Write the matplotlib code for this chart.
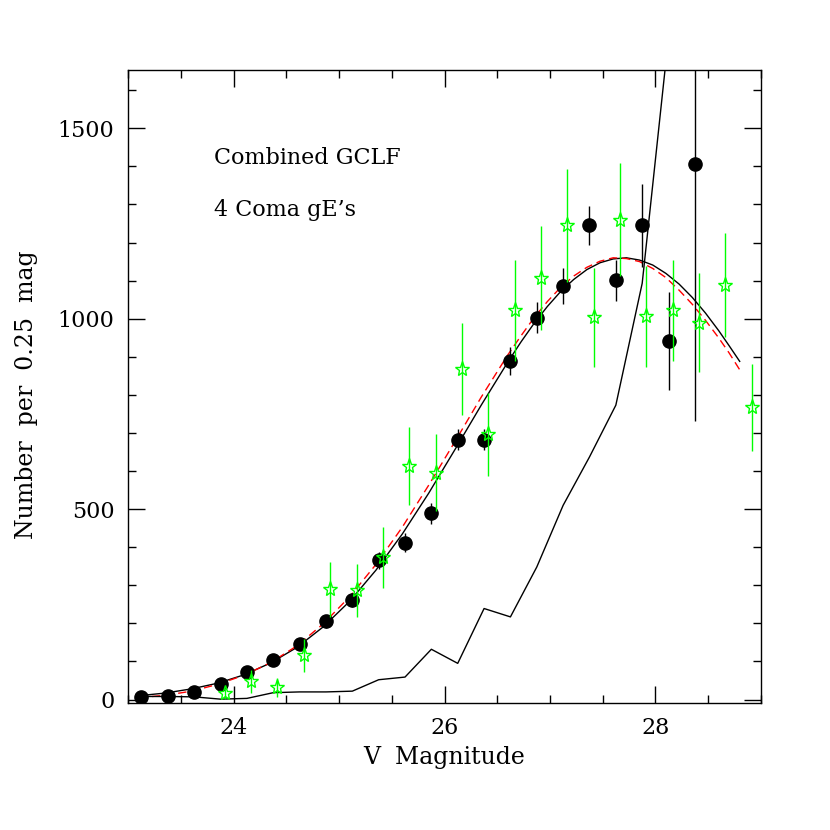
#!/usr/bin/env python3
# -*- coding: utf-8 -*-
"""
Combined GCLF of 4 Coma gE's
"""

# libraries
import numpy as np
import matplotlib
matplotlib.use('Agg')
import matplotlib.pyplot as plt
from matplotlib.ticker import MultipleLocator

# binned counts (black dots)
mag_bins = [23.125, 23.375, 23.625, 23.875, 24.125, 24.375, 24.625, 24.875,
            25.125, 25.375, 25.625, 25.875, 26.125, 26.375, 26.625, 26.875,
            27.125, 27.375, 27.625, 27.875, 28.125, 28.375]
counts = [6, 10, 21, 41, 72, 105, 147, 205, 262, 366, 412, 489, 682, 682,
          889, 1003, 1085, 1245, 1101, 1245, 942, 1407]
counts_err = [3, 4, 6, 8, 10, 12, 14, 16, 19, 22, 24, 27, 28, 28, 37, 41,
              47, 52, 54, 108, 128, 675]

# second set (green open stars)
star_mag = [23.915, 24.165, 24.415, 24.665, 24.915, 25.165, 25.415, 25.665,
            25.915, 26.165, 26.415, 26.665, 26.915, 27.165, 27.415, 27.665,
            27.915, 28.165, 28.415, 28.665, 28.915]
star_counts = [16, 48, 32, 116, 289, 287, 374, 613, 596, 868, 697, 1022,
               1107, 1245, 1004, 1260, 1006, 1022, 989, 1089, 767]
star_err = [15, 30, 25, 43, 72, 70, 80, 102, 100, 120, 109, 132, 137, 148,
            130, 148, 133, 133, 130, 136, 114]

# background / contamination counts (jagged line)
bg_mag = [23.125, 23.375, 23.625, 23.875, 24.125, 24.375, 24.625, 24.875,
          25.125, 25.375, 25.625, 25.875, 26.125, 26.375, 26.625, 26.875,
          27.125, 27.375, 27.625, 27.875, 28.125]
bg_counts = [8, 8, 7, 1, 3, 18, 20, 20, 22, 52, 59, 132, 95, 239, 217, 348,
             510, 637, 773, 1093, 1740]

# fitted curves
fit_mag = [23.1, 23.35, 23.6, 23.85, 24.1, 24.35, 24.6, 24.85, 25.1, 25.35,
           25.6, 25.85, 26.1, 26.35, 26.6, 26.725, 26.85, 26.975, 27.1,
           27.225, 27.35, 27.475, 27.6, 27.725, 27.85, 27.975, 28.1, 28.225,
           28.35, 28.475, 28.6, 28.7, 28.8]
fit_solid = [10, 17, 28, 43, 65, 96, 137, 191, 258, 340, 435, 542, 657, 774,
             886, 939, 988, 1032, 1071, 1103, 1129, 1147, 1157, 1160, 1154,
             1141, 1119, 1091, 1056, 1015, 969, 929, 888]
fit_dashed = [5, 11, 22, 40, 64, 97, 141, 199, 270, 355, 453, 563, 678, 795,
              905, 955, 1003, 1045, 1082, 1112, 1135, 1151, 1160, 1158, 1150,
              1132, 1108, 1075, 1038, 996, 950, 910, 866]

plt.rcParams['font.family'] = ['DejaVu Serif']

fig = plt.figure(figsize=(8.3, 8.3), dpi=100)
ax = fig.add_axes([0.1546, 0.1526, 0.762, 0.763])

# curves
ax.plot(fit_mag, fit_solid, color='black', lw=1.0, zorder=2)
ax.plot(fit_mag, fit_dashed, color='red', lw=1.0, dashes=(6, 3.5), zorder=2)
ax.plot(bg_mag, bg_counts, color='black', lw=1.0, zorder=2)

# data points
ax.errorbar(mag_bins, counts, yerr=counts_err, fmt='o', color='black',
            ms=9.5, elinewidth=1.0, capsize=0, zorder=3)
ax.errorbar(star_mag, star_counts, yerr=star_err, fmt='*', color='#00ff00',
            mfc='none', mec='#00ff00', mew=1.0, ms=11, elinewidth=1.0,
            capsize=0, zorder=4)

# axes setup
ax.set_xlim(23.0, 29.0)
ax.set_ylim(-10, 1653)
ax.xaxis.set_major_locator(MultipleLocator(2))
ax.xaxis.set_minor_locator(MultipleLocator(0.5))
ax.yaxis.set_major_locator(MultipleLocator(500))
ax.yaxis.set_minor_locator(MultipleLocator(100))
ax.tick_params(which='both', direction='in', top=True, right=True,
               width=1.0, labelsize=16, pad=10)
ax.tick_params(which='major', length=12)
ax.tick_params(which='minor', length=6)
for s in ax.spines.values():
    s.set_linewidth(1.0)

ax.set_xlabel('V  Magnitude', fontsize=17, labelpad=5)
ax.set_ylabel('Number  per  0.25  mag', fontsize=17)
ax.yaxis.set_label_coords(-0.143, 0.488)

ax.text(23.81, 1422, 'Combined GCLF', fontsize=16, va='center', ha='left')
ax.text(23.81, 1285, "4 Coma gE\u2019s", fontsize=16, va='center', ha='left')

fig.savefig('out.png', dpi=100)
